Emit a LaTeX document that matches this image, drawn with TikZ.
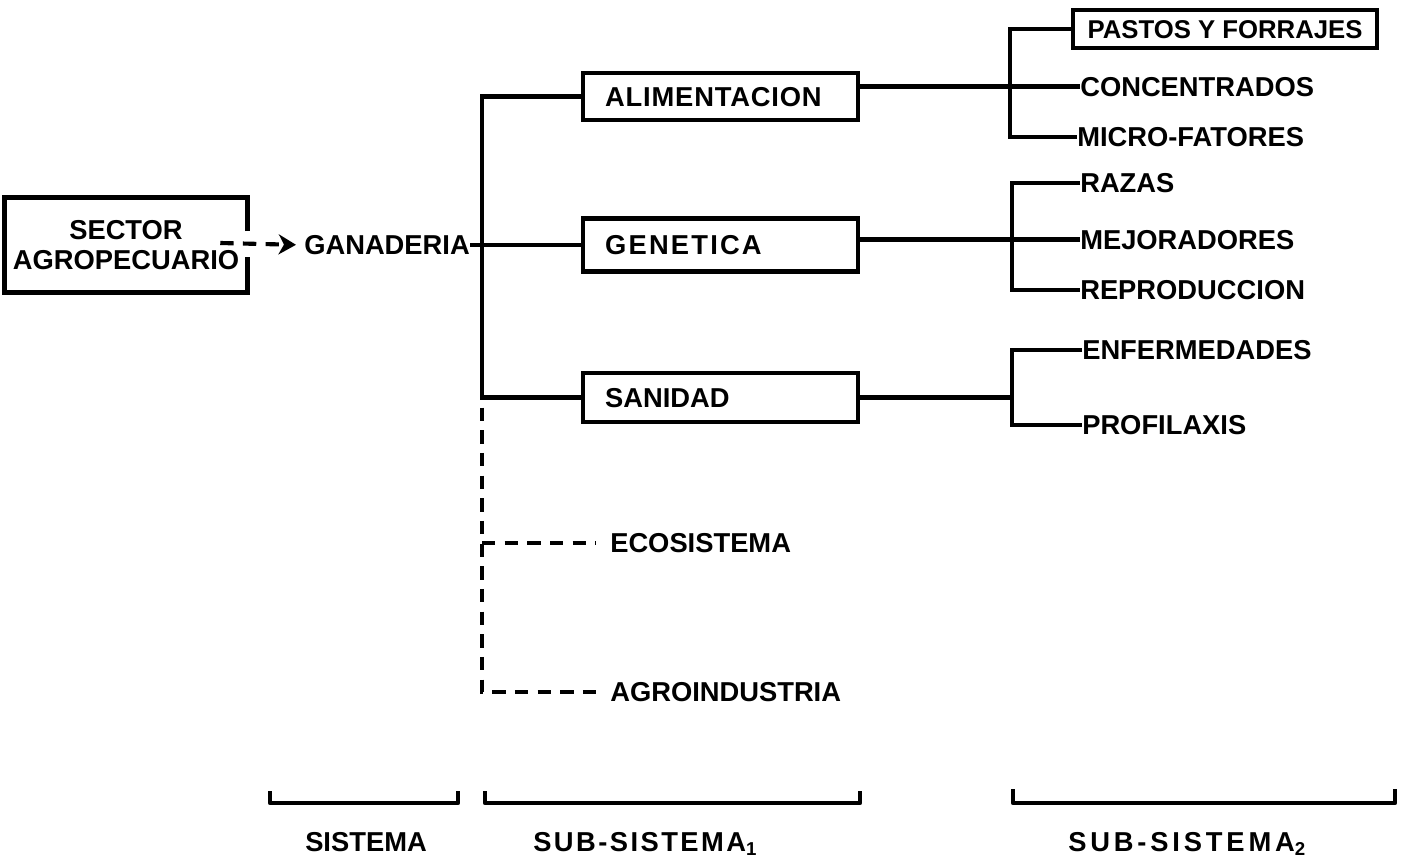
\documentclass[tikz,border=0pt]{standalone}
\usepackage{fontspec}
\setmainfont{Liberation Sans}
\usetikzlibrary{arrows.meta,calc}
\begin{document}
\begin{tikzpicture}[x=0.75pt,y=-0.75pt,
  fnt/.style={font=\bfseries\fontsize{20.5}{23}\selectfont},
  txt/.style={fnt, inner sep=0pt, anchor=west, text height=14.7pt, text depth=0pt},
  bx/.style={draw, line width=3.6pt, fnt, inner sep=0pt, text height=14.7pt, text depth=0pt},
  ln/.style={line width=3.1pt},
  dl/.style={line width=3.1pt, dash pattern=on 10pt off 7pt},
  brk/.style={line width=3.3pt, line join=round}]
\useasboundingbox (0,0) rectangle (1410,860);

% system
\node[fnt, inner sep=0pt, minimum width=181.5pt, minimum height=70.5pt, align=center] (sector) at (126,245) {SECTOR\\AGROPECUARIO};
\draw[line width=3.6pt] ($(sector.east)+(0,-14)$) -- (sector.north east) -- (sector.north west) -- (sector.south west) -- (sector.south east) -- ($(sector.east)+(0,12)$);
\node[txt] (gan) at (304,245) {GANADERIA};
\draw[dl,-{Triangle[length=13pt,width=15pt,inset=4pt]}, shorten >=6pt] ($(sector.east)+(-27,-2)$) -- (gan.west);

% sub-system 1
\node[bx, minimum width=206.25pt, minimum height=35.25pt, text width=173pt, align=left] (alim) at (720.5,96.5) {\addfontfeature{LetterSpace=3}ALIMENTACION};
\node[bx, minimum width=206.25pt, minimum height=39.75pt, text width=173pt, align=left] (gene) at (720.5,245) {\addfontfeature{LetterSpace=8}GENETICA};
\node[bx, minimum width=206.25pt, minimum height=36.75pt, text width=173pt, align=left] (sani) at (720.5,397.5) {SANIDAD};
\node[txt] (eco) at (610,543) {ECOSISTEMA};
\node[txt] (agro) at (610,692) {AGROINDUSTRIA};

\coordinate (m1) at (482,96.5);
\coordinate (m2) at (482,397.5);
\coordinate (m3) at (482,543);
\coordinate (m4) at (482,692);
\draw[ln] (alim.west) -- (m1) -- (m2) -- (sani.west);
\draw[ln] (gan.east) -- (gene.west);
\draw[dl] ($(m2)+(0,10)$) -- (m4) -- ($(agro.west)+(-14,0)$);
\draw[dl] (m3) -- ($(eco.west)+(-14,0)$);

% sub-system 2
\node[bx, minimum width=228pt, minimum height=28.5pt, font=\bfseries\fontsize{19.3}{22}\selectfont] (pastos) at (1225,29) {PASTOS Y FORRAJES};
\node[txt] (conc) at (1080,86.5) {CONCENTRADOS};
\node[txt] (micro) at (1077,137) {MICRO-FATORES};
\node[txt] (razas) at (1080,183) {RAZAS};
\node[txt] (mejo) at (1080,239.5) {MEJORADORES};
\node[txt] (repro) at (1080,290) {REPRODUCCION};
\node[txt] (enf) at (1082,350) {ENFERMEDADES};
\node[txt] (prof) at (1082,425) {PROFILAXIS};

\coordinate (b1) at (1010,86.5);
\coordinate (b1b) at (1010,137);
\coordinate (b2) at (1012,239.5);
\coordinate (b2b) at (1012,290);
\coordinate (b3) at (1012,397.5);
\coordinate (b3b) at (1012,425);
\draw[ln] ($(alim.east)+(0,-10)$) -- (b1) -- (conc.west);
\draw[ln] (pastos.west) -| (b1b) -- (micro.west);
\draw[ln] ($(gene.east)+(0,-5.5)$) -- (b2) -- (mejo.west);
\draw[ln] (razas.west) -| (b2b) -- (repro.west);
\draw[ln] (sani.east) -- (b3);
\draw[ln] (enf.west) -| (b3b) -- (prof.west);

% bottom brackets
\draw[brk] (270,791) -- (270,803) -- (458,803) -- (458,791);
\draw[brk] (485,791) -- (485,803) -- (860,803) -- (860,791);
\draw[brk] (1013,789) -- (1013,803) -- (1395,803) -- (1395,789);
\node[txt, anchor=center] (sis) at (366,842) {SISTEMA};
\node[txt] (sub1) at (533,842) {\addfontfeature{LetterSpace=9}SUB-SISTEMA\raisebox{-3pt}{\fontsize{14}{14}\selectfont 1}};
\node[txt] (sub2) at (1068,842) {\addfontfeature{LetterSpace=14}SUB-SISTEMA\raisebox{-3pt}{\fontsize{14}{14}\selectfont 2}};
\end{tikzpicture}
\end{document}
